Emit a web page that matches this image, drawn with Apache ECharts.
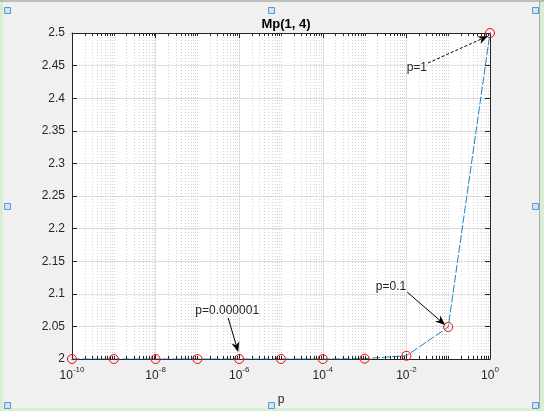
<!DOCTYPE html>
<html><head><meta charset="utf-8">
<script src="https://cdn.jsdelivr.net/npm/echarts@6/dist/echarts.min.js"></script>
<style>html,body{margin:0;padding:0;background:#f0f0f0}#c{width:544px;height:411px}</style>
</head><body><div id="c"></div>
<script>
// ---- data ----
const pValues = [1e-10, 1e-9, 1e-8, 1e-7, 1e-6, 1e-5, 1e-4, 1e-3, 1e-2, 1e-1, 1];
const mpValues = [2, 2, 2, 2, 2, 2, 2, 2.0005, 2.005, 2.049, 2.5];
const xTickExponents = [-10, -8, -6, -4, -2, 0];
const yTickLabels = ['2', '2.05', '2.1', '2.15', '2.2', '2.25', '2.3', '2.35', '2.4', '2.45', '2.5'];
const annotationTexts = ['p=0.000001', 'p=0.1', 'p=1'];
const annotationTargets = [1e-6, 1e-1, 1];
const titleText = 'Mp(1, 4)';
const xName = 'p';

const FONT = '"Liberation Sans", Arial, Helvetica, sans-serif';
const TXT = '#262626';

// minor log grid values
const minorX = [];
for (let e = -10; e < 0; e++) {
  for (let k = 1; k <= 9; k++) {
    if (k === 1 && xTickExponents.indexOf(e) >= 0) continue;
    minorX.push(k * Math.pow(10, e));
  }
}

const chart = echarts.init(document.getElementById('c'), null, {renderer: 'canvas'});
const grid = {left: 72, right: 54, top: 33, bottom: 47, show: true, backgroundColor: '#ffffff', borderWidth: 0};

const xBase = {
  type: 'log', logBase: 10, min: 1e-10, max: 1, interval: 2,
  axisLine: {show: true, lineStyle: {color: TXT, width: 1}},
  axisTick: {show: true, inside: true, length: 5, lineStyle: {color: TXT}},
};
const yBase = {
  type: 'value', min: 2, max: 2.5, interval: 0.05,
  axisLine: {show: true, lineStyle: {color: TXT, width: 1}},
  axisTick: {show: true, inside: true, length: 5, lineStyle: {color: TXT}},
};

chart.setOption({
  backgroundColor: '#f0f0f0',
  animation: false,
  title: {text: titleText, left: 281, textAlign: 'center', top: 13,
    textStyle: {fontFamily: FONT, fontSize: 13, fontWeight: 'bold', color: '#000'}},
  grid: grid,
  xAxis: [
    Object.assign({}, xBase, {
      position: 'bottom',
      name: xName, nameLocation: 'middle', nameGap: 35,
      nameTextStyle: {fontFamily: FONT, fontSize: 12, color: TXT},
      splitLine: {show: true, lineStyle: {color: '#dedede', width: 1}},
      axisLabel: {
        margin: 7,
        formatter: function (v) {
          const e = Math.round(Math.log10(v));
          return '{b|10}{s|' + e + '}';
        },
        rich: {
          b: {fontFamily: FONT, fontSize: 12, color: TXT, lineHeight: 16, verticalAlign: 'bottom'},
          s: {fontFamily: FONT, fontSize: 8, color: TXT, lineHeight: 8, verticalAlign: 'top'}
        }
      }
    }),
    Object.assign({}, xBase, {
      position: 'top', axisLabel: {show: false}, splitLine: {show: false}
    })
  ],
  yAxis: [
    Object.assign({}, yBase, {
      position: 'left',
      splitLine: {show: true, lineStyle: {color: '#dedede', width: 1}},
      axisLabel: {margin: 7, fontFamily: FONT, fontSize: 12, color: TXT,
        formatter: function (v) {
          const i = Math.round((v - 2) / 0.05);
          return yTickLabels[i] !== undefined ? yTickLabels[i] : '';
        }}
    }),
    Object.assign({}, yBase, {
      position: 'right', axisLabel: {show: false}, splitLine: {show: false}
    })
  ],
  series: [
    {
      type: 'line', xAxisIndex: 0, yAxisIndex: 0,
      data: pValues.map((p, i) => [p, mpValues[i]]),
      symbol: 'circle', symbolSize: 9,
      itemStyle: {color: 'rgba(0,0,0,0)', borderColor: '#ff0000', borderWidth: 1},
      lineStyle: {color: '#1f84c6', width: 1, type: [8, 2]},
      z: 5
    }
  ]
});

// ---- annotations, minor grid & frame decorations ----
const annStyle = [
  {tip: [-1, -7], tail: [-11, -41], text: [-12, -48], align: 'center', dashed: false},
  {tip: [-3, -2], tail: [-41, -35], text: [-42, -40], align: 'right', dashed: false},
  {tip: [-2, 3], tail: [-62, 30], text: [-63, 35], align: 'right', dashed: true}
];
const g = [];
function arrow(S, T, dashed) {
  const dx = T[0] - S[0], dy = T[1] - S[1];
  const L = Math.sqrt(dx * dx + dy * dy), ux = dx / L, uy = dy / L;
  const nx = -uy, ny = ux, len = 10, hw = 4;
  const bx = T[0] - ux * len, by = T[1] - uy * len;
  g.push({type: 'line', shape: {x1: S[0], y1: S[1], x2: T[0] - ux * 6, y2: T[1] - uy * 6},
    style: {stroke: '#000', lineWidth: 1, lineDash: dashed ? [3, 2] : null}, z: 50});
  g.push({type: 'polygon', shape: {points: [T, [bx + nx * hw, by + ny * hw], [T[0] - ux * 7, T[1] - uy * 7], [bx - nx * hw, by - ny * hw]]},
    style: {fill: '#000'}, z: 50});
}
annotationTargets.forEach((p, i) => {
  const idx = pValues.indexOf(p);
  const P = chart.convertToPixel({xAxisIndex: 0, yAxisIndex: 0}, [p, mpValues[idx]]);
  const s = annStyle[i];
  arrow([P[0] + s.tail[0], P[1] + s.tail[1]], [P[0] + s.tip[0], P[1] + s.tip[1]], s.dashed);
  g.push({type: 'text', x: P[0] + s.text[0], y: P[1] + s.text[1], z: 50,
    style: {text: annotationTexts[i], fontFamily: FONT, fontSize: 12, fill: TXT, align: s.align, verticalAlign: 'middle'}});
});
// minor grid lines and minor ticks (log decades)
minorX.forEach(v => {
  const pb = chart.convertToPixel({xAxisIndex: 0, yAxisIndex: 0}, [v, 2]);
  const pt = chart.convertToPixel({xAxisIndex: 0, yAxisIndex: 0}, [v, 2.5]);
  const x = Math.round(pb[0]) + 0.5;
  g.push({type: 'line', silent: true, shape: {x1: x, y1: pt[1] + 1, x2: x, y2: pb[1] - 1},
    style: {stroke: '#d2d2d2', lineWidth: 1, lineDash: [1, 2]}, z: 0});
  g.push({type: 'line', silent: true, shape: {x1: x, y1: pb[1], x2: x, y2: pb[1] - 3}, style: {stroke: TXT, lineWidth: 1}, z: 40});
  g.push({type: 'line', silent: true, shape: {x1: x, y1: pt[1], x2: x, y2: pt[1] + 3}, style: {stroke: TXT, lineWidth: 1}, z: 40});
});
// figure frame
g.push({type: 'rect', shape: {x: 0, y: 0, width: 3, height: 411}, style: {fill: '#d6efd3'}, z: 1});
g.push({type: 'rect', shape: {x: 0, y: 408, width: 544, height: 3}, style: {fill: '#d6efd3'}, z: 1});
g.push({type: 'rect', shape: {x: 540, y: 0, width: 4, height: 411}, style: {fill: '#d6efd3'}, z: 1});
g.push({type: 'line', shape: {x1: 0, y1: 1, x2: 544, y2: 1}, style: {stroke: '#8c8c8c', lineWidth: 1}, z: 1});
g.push({type: 'line', shape: {x1: 539.5, y1: 1, x2: 539.5, y2: 408}, style: {stroke: '#a8a8a8', lineWidth: 1}, z: 1});
// selection handles
[[4, 7], [268, 7], [532, 7], [4, 203], [532, 203], [4, 402], [268, 402], [532, 402]].forEach(h => {
  g.push({type: 'rect', shape: {x: h[0] + 0.5, y: h[1] + 0.5, width: 6, height: 6},
    style: {fill: '#cfe3f5', stroke: '#5b9bd5', lineWidth: 1}, z: 2});
});
chart.setOption({graphic: g});
</script>
</body></html>
